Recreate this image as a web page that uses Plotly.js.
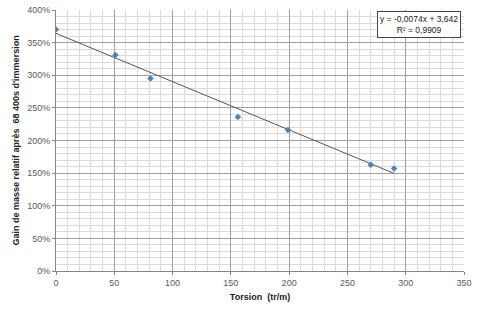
<!DOCTYPE html>
<html><head><meta charset="utf-8">
<script src="https://cdn.plot.ly/plotly-3.0.1.min.js"></script>
<style>html,body{margin:0;padding:0;background:#fff}#c{width:480px;height:314px}</style>
</head><body><div id="c"></div>
<script>
const torsion = [0, 51, 81, 156, 199, 270, 290];
const gain = [3.70, 3.31, 2.95, 2.36, 2.16, 1.63, 1.57];
const slope = -0.0074;
const intercept = 3.642;
const trendX = [0, 290];
const eqText = "y = -0,0074x + 3,642<br>R² = 0,9909";
const xTicks = [0, 50, 100, 150, 200, 250, 300, 350];
const yTicks = [0, 0.5, 1, 1.5, 2, 2.5, 3, 3.5, 4];
const yTickText = ["0%", "50%", "100%", "150%", "200%", "250%", "300%", "350%", "400%"];

const trendY = trendX.map(x => intercept + slope * x);
const font = "Liberation Sans, Arial, sans-serif";

const traces = [
  {x: trendX, y: trendY, mode: "lines", line: {color: "#555", width: 1}, hoverinfo: "skip"},
  {x: torsion, y: gain, mode: "markers", marker: {symbol: "diamond", size: 5, color: "#4F81BD"}}
];

const layout = {
  width: 480, height: 314,
  margin: {l: 56, r: 16, t: 10, b: 43},
  showlegend: false,
  paper_bgcolor: "#fff", plot_bgcolor: "#fff",
  font: {family: font, size: 9, color: "#595959"},
  xaxis: {
    range: [0, 350], tickvals: xTicks, ticktext: xTicks.map(String),
    showgrid: true, gridcolor: "#a0a0a0", gridwidth: 1,
    minor: {dtick: 10, showgrid: true, gridcolor: "#dadada", gridwidth: 1},
    showline: true, linecolor: "#868686", zeroline: false,
    ticks: "outside", ticklen: 3, tickcolor: "#868686",
    title: {text: "<b>Torsion  (tr/m)</b>", font: {size: 9, color: "#222", family: font}, standoff: 6}
  },
  yaxis: {
    range: [0, 4], tickvals: yTicks, ticktext: yTickText,
    showgrid: true, gridcolor: "#a0a0a0", gridwidth: 1,
    minor: {dtick: 0.1, showgrid: true, gridcolor: "#dadada", gridwidth: 1},
    showline: true, linecolor: "#868686", zeroline: false,
    ticks: "outside", ticklen: 3, tickcolor: "#868686",
    title: {text: "<b>Gain de masse relatif après  68 400s d'immersion</b>", font: {size: 9, color: "#222", family: font}, standoff: 6}
  },
  annotations: [{
    xref: "paper", yref: "paper", x: 0.992, y: 0.995, xanchor: "right", yanchor: "top",
    text: eqText, showarrow: false, align: "center",
    font: {size: 8.5, color: "#222", family: font},
    bordercolor: "#444", borderwidth: 1, borderpad: 2, bgcolor: "#fff"
  }]
};
Plotly.newPlot("c", traces, layout, {displayModeBar: false, staticPlot: true});
</script></body></html>
